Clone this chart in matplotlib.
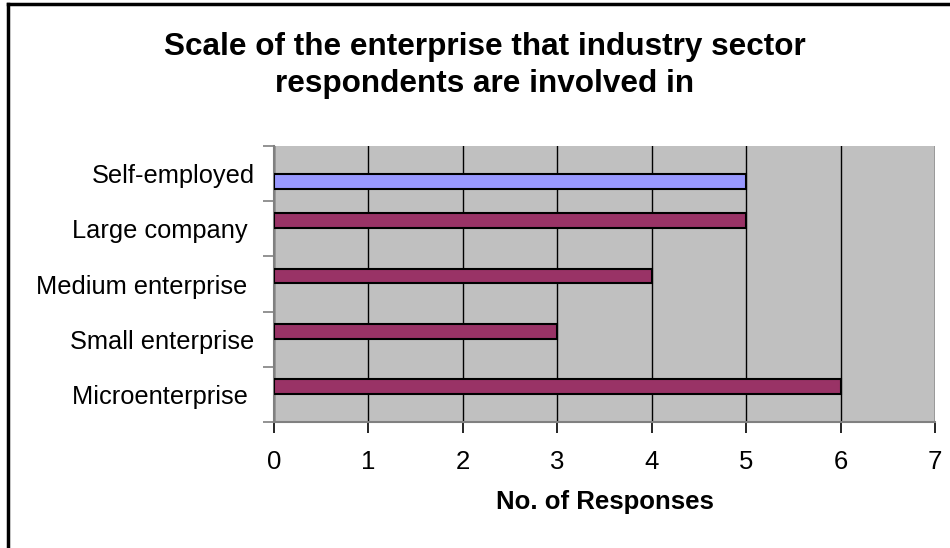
import numpy as np
import matplotlib
matplotlib.use("Agg")
from matplotlib import pyplot as plt

plt.rcParams['font.family'] = ['Liberation Sans', 'DejaVu Sans']

categories = ['Microenterprise ', 'Small enterprise', 'Medium enterprise ',
              'Large company ', 'Self-employed']
company_counts = [6, 3, 4, 5, np.nan]
self_employed_counts = [np.nan, np.nan, np.nan, np.nan, 5]
x_ticks = [0, 1, 2, 3, 4, 5, 6, 7]

fig = plt.figure(figsize=(9.5, 5.48), dpi=100)
ax = fig.add_axes([0.2884, 0.2299, 0.6958, 0.5037])

# outer chart border (left and top visible)
fig.add_artist(plt.Line2D([8 / 950, 8 / 950], [0, 1 - 4 / 548], color='black', lw=2.5))
fig.add_artist(plt.Line2D([8 / 950, 1], [1 - 4 / 548, 1 - 4 / 548], color='black', lw=2.5))

y = np.arange(len(categories))
h = 0.27
ax.barh(y - 0.145, self_employed_counts, height=h, color='#9999FF',
        edgecolor='black', linewidth=1.5, zorder=3)
ax.barh(y + 0.145, company_counts, height=h, color='#993366',
        edgecolor='black', linewidth=1.5, zorder=3)

ax.set_facecolor('#C0C0C0')
ax.set_xlim(0, 7)
ax.set_ylim(-0.5, len(categories) - 0.5)
ax.set_xticks(x_ticks)
ax.set_xticklabels([str(t) for t in x_ticks], fontsize=18.5)
ax.xaxis.grid(True, color='black', lw=1.0, zorder=1)
ax.set_axisbelow(True)

# category labels between boundary ticks
ax.set_yticks(np.arange(-0.5, len(categories), 1.0))
ax.set_yticklabels([])
ax.set_yticks(y, minor=True)
ax.set_yticklabels(categories, minor=True, fontsize=18.3)
ax.tick_params(axis='y', which='minor', length=0, pad=14)
ax.tick_params(axis='y', which='major', length=8, color='#808080', width=1.2)
ax.tick_params(axis='x', length=8, width=1.2, pad=12)

for side in ['top', 'right']:
    ax.spines[side].set_visible(False)
ax.spines['left'].set_color('#808080')
ax.spines['bottom'].set_color('#808080')
ax.spines['left'].set_linewidth(1.5)
ax.spines['bottom'].set_linewidth(1.5)

ax.set_xlabel('No. of Responses', fontsize=18.5, fontweight='bold', labelpad=12)
fig.text(485 / 950, 0.881, 'Scale of the enterprise that industry sector\nrespondents are involved in',
         ha='center', va='center', fontsize=22.7, fontweight='bold', linespacing=1.3)

plt.savefig('out.png', dpi=100)
